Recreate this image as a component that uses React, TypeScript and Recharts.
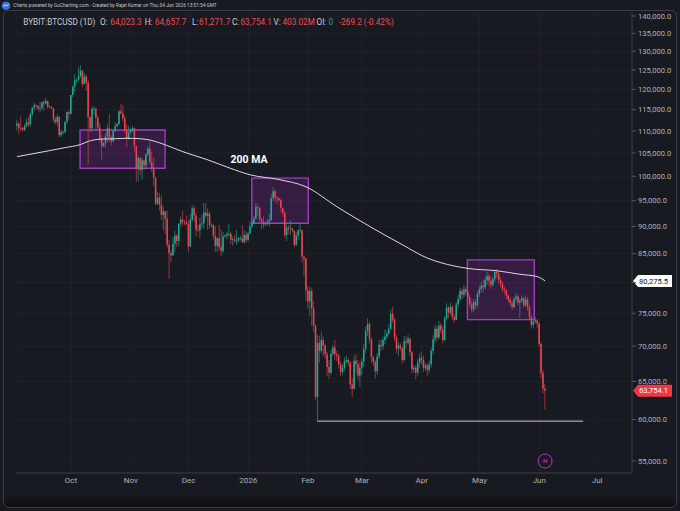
import React from 'react';
import {
  ComposedChart, Bar, Line, XAxis, YAxis, CartesianGrid,
  ReferenceArea, ReferenceLine, ReferenceDot,
} from 'recharts';

// day index = days after 1 Sep 2025 ; prices in thousands USD
const START_DAY = 2;
const FIRST_OPEN = 111.2;

const closes = [
  // Sep 3 - Sep 30
  111.7,110.7,110.6,110.2,111.1,112.0,111.5,113.9,115.5,116.1,115.9,115.3,115.4,116.8,116.5,117.1,115.7,115.7,115.3,112.7,112.0,113.3,109.0,109.7,109.7,112.1,114.4,114.0,
  // Oct
  118.6,120.6,122.3,122.4,123.5,124.8,121.4,123.3,121.7,113.2,110.6,115.2,115.3,113.1,110.8,108.2,106.5,107.2,108.7,110.6,108.5,107.6,110.1,111.0,111.6,114.6,114.1,112.9,110.1,108.3,109.6,
  // Nov
  110.1,110.6,106.5,101.6,103.9,101.3,103.4,102.3,104.7,106.0,103.0,101.6,99.7,94.4,95.6,94.2,92.2,92.9,91.5,86.6,85.1,84.7,86.8,88.3,87.3,90.5,91.3,90.9,90.8,90.4,
  // Dec
  86.3,91.3,93.5,92.1,89.4,89.3,90.4,90.6,92.7,92.0,92.5,90.3,90.3,88.2,86.4,87.8,86.2,85.5,88.1,88.3,88.6,88.6,87.5,87.6,87.3,87.3,87.8,87.8,87.1,88.4,87.5,
  // Jan 2026
  88.7,90.0,90.6,91.5,93.8,93.6,91.3,90.9,90.4,90.6,90.9,91.2,95.5,96.9,95.6,95.5,95.1,93.6,92.6,88.4,89.8,89.5,89.6,89.2,86.6,88.3,89.2,89.3,84.5,84.1,78.7,
  // Feb
  76.9,78.6,75.8,73.1,62.9,70.5,69.3,70.9,70.1,68.8,67.0,66.2,68.9,69.8,68.8,68.6,67.4,66.3,66.9,67.8,68.0,67.6,64.6,64.0,67.9,67.4,65.8,66.9,
  // Mar
  67.8,69.6,72.3,73.3,71.0,68.4,67.7,66.4,68.5,70.2,70.0,70.9,71.4,71.9,72.6,74.9,74.0,71.3,69.6,70.1,69.7,68.0,70.7,70.5,71.1,69.1,66.7,66.9,66.2,67.6,68.3,
  // Apr
  68.0,66.9,67.2,66.6,67.4,69.3,71.0,72.6,71.3,73.1,72.4,70.9,74.2,75.9,75.1,76.0,74.4,74.0,76.4,77.3,78.6,78.0,78.9,78.4,77.6,76.4,75.6,76.8,76.3,78.1,
  // May
  78.9,79.5,79.2,80.4,81.1,80.3,79.6,80.6,81.8,81.5,80.4,79.8,78.9,78.7,77.8,77.2,76.6,76.0,77.3,77.7,76.7,77.0,77.4,76.3,77.2,76.0,74.4,73.2,73.7,73.9,73.4,
  // Jun 1 - Jun 4
  70.3,66.2,64.0233,63.7541,
];

const highs = [
  112.6,112.0,113.4,110.9,111.6,112.9,113.2,114.3,115.6,116.7,116.3,116.1,116.8,117.0,117.3,117.9,117.1,116.1,115.9,115.4,113.3,113.9,113.4,110.3,110.0,112.3,114.5,114.8,
  118.6,121.0,123.9,122.8,125.7,126.2,125.0,124.2,123.8,122.5,113.4,115.7,116.0,115.3,113.6,111.8,109.2,107.5,109.4,111.7,114.0,109.0,110.2,112.0,111.9,114.9,116.4,116.1,113.6,111.5,111.2,
  110.6,111.2,110.8,106.6,104.5,104.1,104.0,103.4,105.0,106.6,107.5,105.3,104.0,99.8,96.8,96.6,96.0,93.8,93.0,93.1,87.5,85.6,88.0,89.2,88.5,90.6,91.9,93.0,91.2,92.0,
  91.1,92.4,94.1,94.0,92.7,90.3,91.7,92.3,94.6,94.5,93.5,92.8,90.6,90.4,90.0,88.0,90.3,89.4,89.0,88.5,89.0,90.5,88.9,88.1,88.3,89.4,88.0,88.2,90.3,89.3,89.0,
  88.9,90.9,91.0,92.0,94.6,94.4,93.7,91.6,91.9,90.9,91.5,92.4,96.3,97.8,97.2,95.9,95.6,95.4,93.5,92.9,90.4,90.3,91.2,89.8,89.2,88.9,89.5,90.5,89.3,84.7,84.2,
  79.4,79.3,79.1,76.9,73.3,71.7,71.5,72.2,71.4,70.4,69.2,68.0,69.5,70.2,70.9,69.3,68.9,67.8,67.4,68.4,68.6,68.2,67.9,65.4,68.6,68.9,68.0,67.6,
  68.3,70.3,73.0,74.2,73.7,71.3,68.6,68.0,69.0,70.9,71.0,71.4,72.5,72.3,73.3,75.6,76.0,74.3,71.7,70.6,70.4,69.9,71.5,71.4,71.7,71.3,69.3,67.3,67.2,68.1,68.9,
  69.2,68.6,67.6,67.5,67.9,69.8,71.6,73.3,73.0,73.8,73.5,73.0,74.6,76.6,76.2,76.7,76.3,74.8,76.8,78.0,79.2,79.0,79.6,79.3,78.6,77.9,77.0,77.3,77.2,78.6,
  79.5,80.1,80.5,81.0,81.8,81.5,81.0,81.0,82.2,82.3,81.9,80.9,80.2,79.4,79.0,78.1,77.5,77.0,77.7,78.3,78.0,77.4,77.8,77.6,77.9,77.6,76.3,74.8,74.1,74.4,74.1,
  73.6,70.6,66.6,64.6577,
];

const lows = [
  110.2,109.3,110.0,109.9,110.0,110.8,110.9,110.9,113.4,114.8,115.2,114.8,114.4,114.8,114.7,116.2,115.2,115.4,115.1,112.0,111.5,111.1,108.6,108.6,109.2,109.4,111.6,112.6,
  113.9,118.0,119.3,121.5,122.0,123.0,120.6,121.1,119.6,102.5,109.6,109.8,113.8,110.0,110.2,107.4,103.6,106.4,106.1,107.5,107.4,106.6,107.5,109.7,110.9,111.3,113.9,112.2,109.4,106.3,108.0,
  109.4,109.7,105.3,98.9,98.9,100.3,99.3,101.4,101.4,104.3,102.5,100.8,98.0,94.0,94.2,93.0,91.2,89.3,88.6,86.1,80.6,83.5,84.6,85.3,86.2,86.4,90.0,90.2,90.3,90.3,
  85.3,86.2,91.0,90.9,88.1,88.9,87.8,89.6,89.6,91.6,89.3,89.6,89.8,87.6,85.3,85.3,85.6,84.5,85.1,87.9,87.6,88.0,86.7,86.5,87.0,86.6,87.2,87.4,86.9,86.8,87.0,
  87.2,88.5,89.6,90.4,91.3,91.9,90.9,89.4,89.7,90.1,90.2,90.0,91.0,94.9,94.8,94.4,94.9,92.7,91.9,87.9,87.3,88.5,88.4,88.9,86.1,86.4,87.5,88.7,83.4,81.1,77.0,
  75.7,74.6,73.0,72.1,62.5,59.8,67.6,69.0,68.5,68.2,65.8,65.3,65.9,68.6,68.0,67.8,66.8,65.7,65.9,66.5,67.5,67.1,64.0,62.9,63.9,66.2,65.2,64.2,
  65.9,67.1,69.0,71.5,70.4,67.6,67.2,65.4,65.9,68.1,69.3,69.5,70.3,71.1,71.6,72.4,73.5,70.8,69.0,68.6,69.3,67.5,67.8,69.7,70.2,68.6,66.1,66.2,65.3,65.8,66.9,
  67.4,66.3,66.5,65.8,66.2,66.9,68.7,70.5,70.7,71.0,71.9,70.4,70.8,73.9,74.2,74.7,73.9,73.5,73.9,75.9,76.9,77.3,77.5,77.8,77.0,75.9,75.1,75.2,75.6,75.9,
  77.6,78.3,78.4,78.8,79.6,79.3,78.9,79.3,80.1,80.8,79.8,79.2,78.5,78.1,77.3,76.8,76.2,75.5,75.8,76.9,76.3,74.3,76.7,75.9,76.0,75.4,73.9,72.7,72.6,73.4,72.8,
  69.9,65.5,63.4,61.2717,
];

// 200-day moving average (day index, value in thousands)
const maDays = [2,16,27,35,39,45,53,59,66,72,79,88,101,112,123,138,152,168,185,202,215,222,236,251,263,272,276];
const maValues = [104.2,105.3,106.2,106.9,107.6,108.1,108.2,108.3,108.2,107.8,106.8,105.3,103.5,101.8,100.3,99.3,97.8,93.8,90.0,86.6,84.2,83.4,82.4,82.0,81.4,81.0,80.2755];

const monthTicks = [30,61,91,122,153,181,212,242,273,303];
const monthLabels = ['Oct','Nov','Dec','2026','Feb','Mar','Apr','May','Jun','Jul'];
const priceTicks = [55000,60000,65000,70000,75000,80000,85000,90000,95000,100000,105000,110000,115000,120000,125000,130000,135000,140000];
const hiddenTick = 80000;

// highlighted zones: start day, end day, low (k), high (k)
const zoneStart = [34.7, 123.8, 235.7];
const zoneEnd = [78.8, 153.1, 270.4];
const zoneLow = [101.7, 90.6, 74.0];
const zoneHigh = [110.2, 99.6, 83.9];

const supportLevel = 59.8;
const supportFrom = 157.8;
const supportTo = 295.7;
const volumeText = '403.02M';
const oiText = '0';

const data: any[] = closes.map((c, i) => {
  const open = i === 0 ? FIRST_OPEN : closes[i - 1];
  return {
    d: START_DAY + i,
    open: open * 1000,
    close: c * 1000,
    high: highs[i] * 1000,
    low: lows[i] * 1000,
    hl: [lows[i] * 1000, highs[i] * 1000],
  };
});
maDays.forEach((day, k) => {
  const e = data.find((r) => r.d === day);
  if (e) e.ma = maValues[k] * 1000;
});

const last = data[data.length - 1];
const lastMa = maValues[maValues.length - 1] * 1000;

const fmt1 = (v: number) =>
  v.toLocaleString('en-US', { minimumFractionDigits: 1, maximumFractionDigits: 1 });

const UP = '#22ab94';
const DOWN = '#f0444f';
const BG = '#181a21';
const TXT = '#aeb1b9';

function Candle(props: any) {
  const { x, y, width, height } = props;
  const p = props.payload || props;
  if (x == null || y == null || !p || p.high == null) return null;
  const top = Math.min(y, y + height);
  const h = Math.abs(height);
  const lnH = Math.log(p.high);
  const lnL = Math.log(p.low);
  const span = lnH - lnL;
  const yOf = (v: number) => (span > 0 ? top + (h * (lnH - Math.log(v))) / span : top);
  const cx = x + width / 2;
  const up = p.close >= p.open;
  const color = up ? UP : DOWN;
  const yo = yOf(p.open);
  const yc = yOf(p.close);
  const bTop = Math.min(yo, yc);
  const bH = Math.max(Math.abs(yo - yc), 0.7);
  return (
    <g>
      <line x1={cx} x2={cx} y1={top} y2={top + h} stroke={color} strokeWidth={0.6} />
      <rect x={cx - 0.75} y={bTop} width={1.5} height={bH} fill={color} />
    </g>
  );
}

function PriceTag(props: any) {
  const { viewBox, text, bg, fg } = props;
  if (!viewBox) return null;
  const x0 = viewBox.x + viewBox.width + 1;
  const yy = viewBox.y;
  return (
    <g>
      <path
        d={`M${x0} ${yy} L${x0 + 5} ${yy - 6} L${x0 + 39} ${yy - 6} L${x0 + 39} ${yy + 6} L${x0 + 5} ${yy + 6} Z`}
        fill={bg}
      />
      <text x={x0 + 6} y={yy} dy="0.35em" fontSize={7.6} fill={fg} fontFamily="Roboto, sans-serif">
        {text}
      </text>
    </g>
  );
}

function Header() {
  const y = 25;
  const lab = '#c9ccd3';
  const red = '#ef4d57';
  const chg = last.close - last.open;
  const pct = (chg / last.open) * 100;
  const items: [string, number, string][] = [
    ['BYBIT:BTCUSD (1D)', 23.3, lab],
    ['O:', 100, lab],
    [fmt1(last.open), 110.3, red],
    ['H:', 144.7, lab],
    [fmt1(last.high), 155, red],
    ['L:', 192, lab],
    [fmt1(last.low), 199, red],
    ['C:', 232, lab],
    [fmt1(last.close), 240.5, red],
    ['V:', 273.5, lab],
    [volumeText, 282.5, red],
    ['OI:', 316.5, lab],
    [oiText, 328.5, UP],
    [`${fmt1(chg)} (${pct.toFixed(2)}%)`, 339, red],
  ];
  return (
    <svg width={680} height={34} style={{ position: 'absolute', left: 0, top: 0 }}>
      <circle cx={6} cy={5.7} r={4.3} fill="#3d6fe0" />
      <path d="M3.2 6.8 L5 4.6 L6.6 6.2 L8.8 3.8" stroke="#fff" strokeWidth={0.8} fill="none" />
      <text x={13.3} y={7.4} fontSize={4.75} fill="#c8c8c8" fontFamily="Roboto, sans-serif">
        Charts powered by GoCharting.com - Created by Rajat Kumar on Thu, 04 Jun 2026 13:51:54 GMT
      </text>
      {items.map(([t, x, c], i) => (
        <text key={i} x={x} y={y} fontSize={8.2} fill={c} fontFamily="Roboto, sans-serif">
          {t}
        </text>
      ))}
    </svg>
  );
}

export default function App() {
  return (
    <div style={{ position: 'relative', width: 680, height: 511, background: BG, overflow: 'hidden', fontFamily: 'Roboto, sans-serif' }}>
      <style>{`body{margin:0;background:${BG};}`}</style>
      <div style={{ position: 'absolute', left: 4, top: 493, width: 672, height: 14, background: 'linear-gradient(#181a21, #0e0f13)' }} />
      <div style={{ position: 'absolute', left: 3, top: 10, width: 672, height: 496, border: '1px solid #3a3d46', borderRadius: 6 }} />
      <div style={{ position: 'absolute', left: 0, top: 0 }}>
        <ComposedChart width={680} height={511} data={data} margin={{ top: 13, right: 0, bottom: 18, left: 16 }}>
          <CartesianGrid stroke="#22252d" strokeWidth={0.8} />
          <XAxis
            dataKey="d"
            type="number"
            domain={[1.45, 321.1]}
            allowDataOverflow
            ticks={monthTicks}
            interval={0}
            tickFormatter={(v: number) => monthLabels[monthTicks.indexOf(v)] ?? ''}
            tick={{ fill: TXT, fontSize: 8, fontFamily: 'Roboto, sans-serif' }}
            tickLine={false}
            tickSize={2}
            tickMargin={2}
            axisLine={{ stroke: '#3a3d46' }}
            height={20}
          />
          <YAxis
            orientation="right"
            scale="log"
            domain={[53632, 140885]}
            allowDataOverflow
            ticks={priceTicks}
            interval={0}
            tickFormatter={(v: number) => (v === hiddenTick ? '' : fmt1(v))}
            tick={{ fill: TXT, fontSize: 7.6, fontFamily: 'Roboto, sans-serif' }}
            tickSize={4}
            tickMargin={2}
            tickLine={{ stroke: '#555862' }}
            axisLine={{ stroke: '#3a3d46' }}
            width={48}
          />
          {zoneStart.map((s, i) => (
            <ReferenceArea
              key={i}
              x1={s}
              x2={zoneEnd[i]}
              y1={zoneLow[i] * 1000}
              y2={zoneHigh[i] * 1000}
              fill="#9c27b0"
              fillOpacity={0.22}
              stroke="#a03cc4"
              strokeWidth={1.4}
              strokeOpacity={1}
            />
          ))}
          <Bar dataKey="hl" barSize={1.5} shape={Candle} isAnimationActive={false} />
          <Line
            dataKey="ma"
            type="monotone"
            stroke="#dcdcdc"
            strokeWidth={1}
            dot={false}
            connectNulls
            isAnimationActive={false}
          />
          <ReferenceLine
            segment={[{ x: supportFrom, y: supportLevel * 1000 }, { x: supportTo, y: supportLevel * 1000 }]}
            stroke="#c9c9c9"
            strokeWidth={1}
          />
          <ReferenceLine y={lastMa} stroke="none" label={<PriceTag text={fmt1(lastMa)} bg="#ffffff" fg="#111111" />} />
          <ReferenceLine y={last.close} stroke="none" label={<PriceTag text={fmt1(last.close)} bg="#f23645" fg="#ffffff" />} />
          <ReferenceDot
            x={122.4}
            y={103700}
            r={0}
            fill="none"
            stroke="none"
            label={{ value: '200 MA', position: 'center', fill: '#ffffff', fontSize: 10.5, fontWeight: 700, fontFamily: 'Roboto, sans-serif' }}
          />
          <ReferenceDot
            x={276}
            y={55000}
            r={7}
            fill="none"
            stroke="#b62fcc"
            strokeWidth={1}
            label={{ value: 'N', position: 'center', fill: '#c23ad6', fontSize: 6, fontFamily: 'Roboto, sans-serif' }}
          />
        </ComposedChart>
      </div>
      <Header />
    </div>
  );
}
